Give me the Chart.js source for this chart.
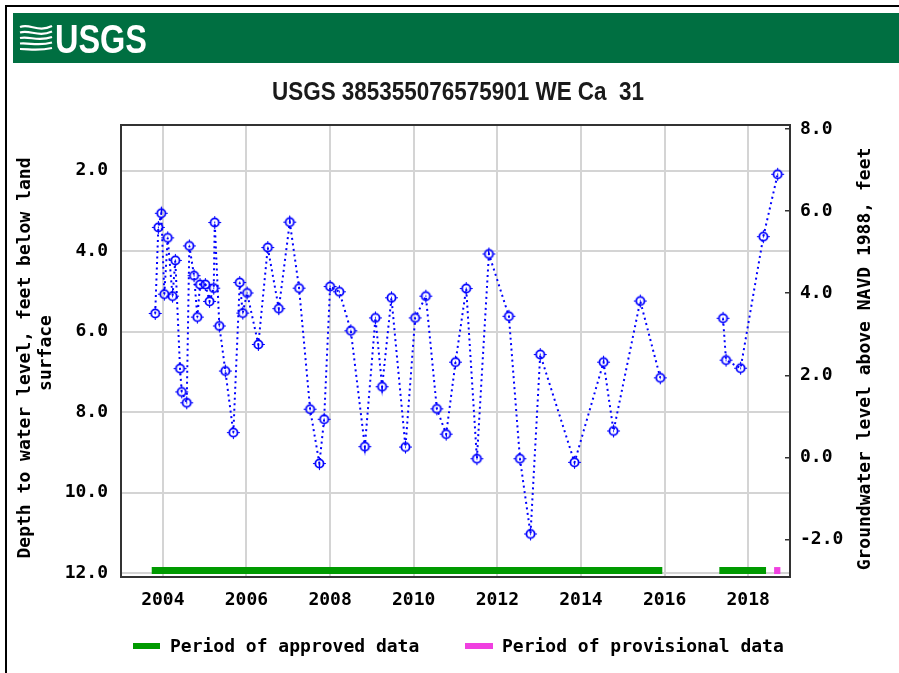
<!DOCTYPE html>
<html>
<head>
<meta charset="utf-8">
<script src="https://cdn.jsdelivr.net/npm/chart.js@4.4.1/dist/chart.umd.min.js"></script>
<style>
    html, body { margin: 0; padding: 0; background: #fff; }
    #chart { display: block; }
</style>
</head>
<body>
<canvas id="chart" width="899" height="673"></canvas>
<script>
// sample dates (decimal years) and depth to water, feet below land surface
const sampleYears = [
    2003.818, 2003.893, 2003.964, 2004.036, 2004.117, 2004.232, 2004.299, 2004.412,
    2004.452, 2004.572, 2004.634, 2004.747, 2004.826, 2004.890, 2005.017, 2005.118,
    2005.218, 2005.242, 2005.352, 2005.496, 2005.687, 2005.840, 2005.912, 2006.015,
    2006.285, 2006.510, 2006.774, 2007.037, 2007.259, 2007.523, 2007.745, 2007.858,
    2008.001, 2008.224, 2008.497, 2008.832, 2009.085, 2009.245, 2009.468, 2009.803,
    2010.035, 2010.291, 2010.554, 2010.777, 2011.000, 2011.256, 2011.512, 2011.799,
    2012.277, 2012.541, 2012.794, 2013.026, 2013.847, 2014.541, 2014.780, 2015.419,
    2015.898, 2017.398, 2017.470, 2017.819, 2018.362, 2018.705
];
const depthFeet = [
    5.55, 3.41, 3.06, 5.07, 3.67, 5.12, 4.23, 6.92,
    7.50, 7.77, 3.87, 4.61, 5.64, 4.83, 4.83, 5.25,
    4.92, 3.29, 5.86, 6.98, 8.51, 4.78, 5.54, 5.04,
    6.32, 3.91, 5.43, 3.28, 4.92, 7.93, 9.28, 8.18,
    4.88, 5.01, 5.98, 8.86, 5.66, 7.37, 5.16, 8.87,
    5.66, 5.12, 7.92, 8.55, 6.76, 4.93, 9.16, 4.07,
    5.62, 9.16, 11.03, 6.57, 9.25, 6.76, 8.47, 5.24,
    7.15, 5.67, 6.71, 6.91, 3.64, 2.09
];
const gapYear = 2016.6; // no samples in 2016-2017, line breaks here

const depthTicks = [2, 4, 6, 8, 10, 12];
const elevationTicks = [-2, 0, 2, 4, 6, 8];
const yearTicks = [2004, 2006, 2008, 2010, 2012, 2014, 2016, 2018];

const approvedPeriods = [[2003.735, 2015.946], [2017.31, 2018.427]];
const provisionalPeriods = [[2018.62, 2018.77]];

const TITLE = 'USGS 385355076575901 WE Ca  31';
const BAR_DEPTH = 11.94;
const MONO = "'DejaVu Sans Mono', monospace";
const tickFont = { family: MONO, size: 18, weight: 'bold' };

const depthPoints = [];
sampleYears.forEach( function ( yr, i ) {
    if ( i > 0 && sampleYears[i - 1] < gapYear && yr > gapYear ) {
        depthPoints.push( { x: gapYear, y: null } );
    }
    depthPoints.push( { x: yr, y: depthFeet[i] } );
} );

function periodPoints( periods ) {
    const pts = [];
    periods.forEach( function ( p, i ) {
        if ( i > 0 ) {
            pts.push( { x: ( periods[i - 1][1] + p[0] ) / 2, y: null } );
        }
        pts.push( { x: p[0], y: BAR_DEPTH }, { x: p[1], y: BAR_DEPTH } );
    } );
    return pts;
}

// open circle with four short ticks and a centre dot
function makeMarker() {
    const c = document.createElement( 'canvas' );
    c.width = 15;
    c.height = 15;
    const g = c.getContext( '2d' );
    g.strokeStyle = '#0000ff';
    g.lineWidth = 1.8;
    g.beginPath();
    g.arc( 7.5, 7.5, 4.1, 0, Math.PI * 2 );
    g.stroke();
    g.fillStyle = '#0000ff';
    g.fillRect( 7, 1, 1, 2 );
    g.fillRect( 7, 12, 1, 2 );
    g.fillRect( 1, 7, 2, 1 );
    g.fillRect( 12, 7, 2, 1 );
    g.fillRect( 7, 6.5, 1, 2 );
    return c;
}

function setTicks( list ) {
    return function ( axis ) {
        axis.ticks = list.map( function ( v ) { return { value: v }; } );
    };
}

const decorPlugin = {
    id: 'usgsDecor',
    beforeDraw: function ( chart ) {
        const ctx = chart.ctx;
        ctx.save();
        ctx.fillStyle = '#fff';
        ctx.fillRect( 0, 0, chart.width, chart.height );

        // outer frame
        ctx.strokeStyle = '#000';
        ctx.lineWidth = 2;
        ctx.beginPath();
        ctx.moveTo( 6, chart.height );
        ctx.lineTo( 6, 6 );
        ctx.lineTo( chart.width, 6 );
        ctx.stroke();

        // banner
        ctx.fillStyle = '#006f41';
        ctx.fillRect( 13, 13, chart.width - 13, 50 );

        // wave logo
        ctx.strokeStyle = '#fff';
        ctx.lineWidth = 2.2;
        for ( let k = 0; k < 5; k++ ) {
            const y0 = 27 + k * 5.5;
            ctx.beginPath();
            ctx.moveTo( 20, y0 );
            ctx.bezierCurveTo( 30, y0 - 4 + k, 38, y0 + 6 - k, 52, y0 - 1 );
            ctx.stroke();
        }
        ctx.font = "bold 40px 'Liberation Sans', Arial, sans-serif";
        ctx.fillStyle = '#fff';
        ctx.textBaseline = 'alphabetic';
        const lw = ctx.measureText( 'USGS' ).width;
        ctx.save();
        ctx.translate( 55, 53 );
        ctx.scale( 92 / lw, 1 );
        ctx.fillText( 'USGS', 0, 0 );
        ctx.restore();

        // title
        ctx.font = "bold 25px 'Liberation Sans', Arial, sans-serif";
        ctx.fillStyle = '#1a1a1a';
        const tw = ctx.measureText( TITLE ).width;
        ctx.save();
        ctx.translate( 458, 100 );
        ctx.scale( 372 / tw, 1 );
        ctx.textAlign = 'center';
        ctx.fillText( TITLE, 0, 0 );
        ctx.restore();
        ctx.restore();
    },
    afterDraw: function ( chart ) {
        const ctx = chart.ctx;
        const a = chart.chartArea;
        ctx.save();

        // plot frame
        ctx.strokeStyle = '#333';
        ctx.lineWidth = 2;
        ctx.strokeRect( a.left, a.top, a.right - a.left, a.bottom - a.top );

        // axis titles
        ctx.font = 'bold 18px ' + MONO;
        ctx.fillStyle = '#000';
        ctx.textAlign = 'center';
        ctx.textBaseline = 'middle';
        function vtext( txt, x, y ) {
            ctx.save();
            ctx.translate( x, y );
            ctx.rotate( -Math.PI / 2 );
            ctx.fillText( txt, 0, 0 );
            ctx.restore();
        }
        vtext( 'Depth to water level, feet below land', 25, 358 );
        vtext( 'surface', 46, 353 );
        vtext( 'Groundwater level above NAVD 1988, feet', 865, 359 );

        // legend
        ctx.lineWidth = 6;
        ctx.strokeStyle = '#009a00';
        ctx.beginPath();
        ctx.moveTo( 133, 646 );
        ctx.lineTo( 160, 646 );
        ctx.stroke();
        ctx.strokeStyle = '#f040e0';
        ctx.beginPath();
        ctx.moveTo( 465, 646 );
        ctx.lineTo( 493, 646 );
        ctx.stroke();
        ctx.textAlign = 'left';
        ctx.fillText( 'Period of approved data', 170, 647 );
        ctx.fillText( 'Period of provisional data', 502, 647 );
        ctx.restore();
    }
};

new Chart( document.getElementById( 'chart' ).getContext( '2d' ), {
    type: 'line',
    data: {
        datasets: [
            {
                label: 'Depth to water',
                data: depthPoints,
                yAxisID: 'y',
                borderColor: '#0000ff',
                borderWidth: 2,
                borderDash: [ 2, 3.5 ],
                pointStyle: makeMarker(),
                pointRadius: 6,
                tension: 0,
                spanGaps: false
            },
            {
                label: 'Period of approved data',
                data: periodPoints( approvedPeriods ),
                yAxisID: 'y',
                borderColor: '#009a00',
                borderWidth: 7,
                borderCapStyle: 'butt',
                pointRadius: 0,
                spanGaps: false
            },
            {
                label: 'Period of provisional data',
                data: periodPoints( provisionalPeriods ),
                yAxisID: 'y',
                borderColor: '#f040e0',
                borderWidth: 7,
                borderCapStyle: 'butt',
                pointRadius: 0,
                spanGaps: false
            }
        ]
    },
    options: {
        responsive: false,
        animation: false,
        layout: { padding: { left: 0, right: 0, top: 125, bottom: 0 } },
        plugins: {
            legend: { display: false },
            tooltip: { enabled: false }
        },
        scales: {
            x: {
                type: 'linear',
                min: 2003,
                max: 2019,
                afterBuildTicks: setTicks( yearTicks ),
                afterFit: function ( s ) { s.height = 96; },
                grid: { color: '#d4d4d4', lineWidth: 2, drawTicks: false },
                border: { display: false },
                ticks: {
                    padding: 13,
                    color: '#000',
                    font: tickFont,
                    maxRotation: 0,
                    autoSkip: false,
                    callback: function ( v ) { return String( v ); }
                }
            },
            y: {
                type: 'linear',
                position: 'left',
                reverse: true,
                min: 0.865,
                max: 12.1,
                afterBuildTicks: setTicks( depthTicks ),
                afterFit: function ( s ) { s.width = 121; },
                grid: { color: '#d4d4d4', lineWidth: 2, drawTicks: false },
                border: { display: false },
                ticks: {
                    padding: 13,
                    color: '#000',
                    font: tickFont,
                    callback: function ( v ) { return v.toFixed( 1 ); }
                }
            },
            y1: {
                type: 'linear',
                position: 'right',
                min: -2.91,
                max: 8.097,
                afterBuildTicks: setTicks( elevationTicks ),
                afterFit: function ( s ) { s.width = 109; },
                grid: { drawOnChartArea: false, drawTicks: true, tickLength: -5, color: '#333', lineWidth: 1.5 },
                border: { display: false },
                ticks: {
                    padding: 15,
                    color: '#000',
                    font: tickFont,
                    callback: function ( v ) { return v.toFixed( 1 ); }
                }
            }
        }
    },
    plugins: [ decorPlugin ]
} );
</script>
</body>
</html>
